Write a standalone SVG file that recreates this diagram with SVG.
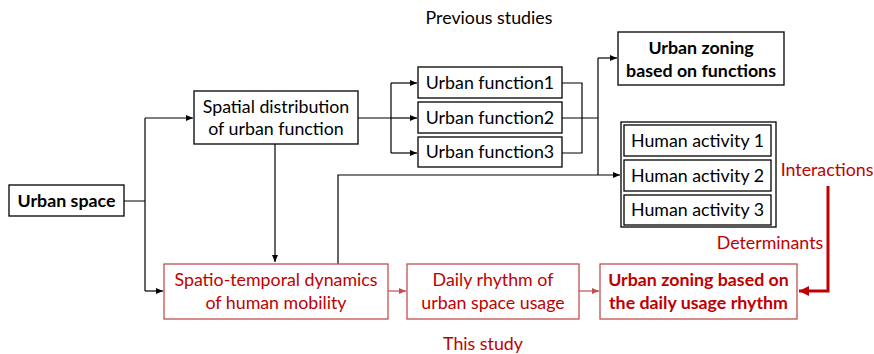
<svg xmlns="http://www.w3.org/2000/svg" width="874" height="354" viewBox="0 0 874 354">
<style>
text{font-family:Lato,"Open Sans",sans-serif;font-size:17.8px;text-anchor:middle;fill:#000}
.b{font-weight:bold}
.r{fill:#c00000}
.box{fill:#fff;stroke:#000;stroke-width:1.3}
.rbox{fill:#fff;stroke:#c0504d;stroke-width:1.3}
.ln{fill:none;stroke:#000;stroke-width:1.2}
.rl{fill:none;stroke:#c0504d;stroke-width:1.2}
</style>
<defs>
<marker id="a" markerWidth="8" markerHeight="8" refX="7" refY="4" orient="auto" markerUnits="userSpaceOnUse"><path d="M0,1 L7,4 L0,7 z" fill="#000"/></marker>
<marker id="ar" markerWidth="8" markerHeight="8" refX="7" refY="4" orient="auto" markerUnits="userSpaceOnUse"><path d="M0,1 L7,4 L0,7 z" fill="#c0504d"/></marker>
<marker id="ab" markerWidth="12" markerHeight="12" refX="10" refY="6" orient="auto" markerUnits="userSpaceOnUse"><path d="M0,1 L10,6 L0,11 z" fill="#c00000"/></marker>
</defs>
<text x="489" y="24">Previous studies</text>
<text x="483" y="350" class="r">This study</text>
<g id="connectors">
<path class="ln" d="M124,201 H145 M145,118 V291"/>
<path class="ln" d="M145,118 H193" marker-end="url(#a)"/>
<path class="ln" d="M145,291 H163" marker-end="url(#a)"/>
<path class="ln" d="M275,144 V262" marker-end="url(#a)"/>
<path class="ln" d="M358,118 H391 M391,83 V153"/>
<path class="ln" d="M391,83 H417" marker-end="url(#a)"/>
<path class="ln" d="M391,118 H417" marker-end="url(#a)"/>
<path class="ln" d="M391,153 H417" marker-end="url(#a)"/>
<path class="ln" d="M562,83 H582 V153 H562 M562,118 H598 M598,58 V175"/>
<path class="ln" d="M598,58 H617" marker-end="url(#a)"/>
<path class="ln" d="M338,264 V175 H620" marker-end="url(#a)"/>
<path class="rl" d="M388,291 H406" marker-end="url(#ar)"/>
<path class="rl" d="M579,291 H599" marker-end="url(#ar)"/>
<path fill="none" stroke="#c00000" stroke-width="3" d="M828,186 V291 H799" marker-end="url(#ab)"/>
</g>
<g id="urban-space"><rect class="box" x="9" y="185" width="115" height="31"/><text x="66.5" y="207" class="b">Urban space</text></g>
<g id="spatial"><rect class="box" x="194" y="91" width="164" height="53"/><text x="276" y="113">Spatial distribution</text><text x="276" y="135">of urban function</text></g>
<g id="uf1"><rect class="box" x="418" y="67" width="144" height="31"/><text x="490" y="89">Urban function1</text></g>
<g id="uf2"><rect class="box" x="418" y="102" width="144" height="31"/><text x="490" y="124">Urban function2</text></g>
<g id="uf3"><rect class="box" x="418" y="137" width="144" height="30"/><text x="490" y="158">Urban function3</text></g>
<g id="zoning-func"><rect class="box" x="618" y="32" width="166" height="53"/><text x="701" y="54" class="b">Urban zoning</text><text x="701" y="77" class="b">based on functions</text></g>
<g id="human-activity">
<rect class="box" x="621" y="122" width="155" height="105"/>
<rect class="box" x="624" y="125" width="147" height="31"/><text x="697.5" y="147">Human activity 1</text>
<rect class="box" x="624" y="160" width="147" height="31"/><text x="697.5" y="182">Human activity 2</text>
<rect class="box" x="624" y="195" width="147" height="30"/><text x="697.5" y="216">Human activity 3</text>
</g>
<g id="interactions"><text x="827" y="176" class="r">Interactions</text></g>
<g id="determinants"><text x="770" y="249" class="r">Determinants</text></g>
<g id="mobility"><rect class="rbox" x="164" y="264" width="224" height="55"/><text x="276" y="286" class="r">Spatio-temporal dynamics</text><text x="276" y="309" class="r">of human mobility</text></g>
<g id="rhythm"><rect class="rbox" x="407" y="264" width="172" height="55"/><text x="493" y="286" class="r">Daily rhythm of</text><text x="493" y="309" class="r">urban space usage</text></g>
<g id="zoning-rhythm"><rect class="rbox" x="600" y="264" width="197" height="55"/><text x="698.5" y="286" class="r b">Urban zoning based on</text><text x="698.5" y="309" class="r b">the daily usage rhythm</text></g>
</svg>
